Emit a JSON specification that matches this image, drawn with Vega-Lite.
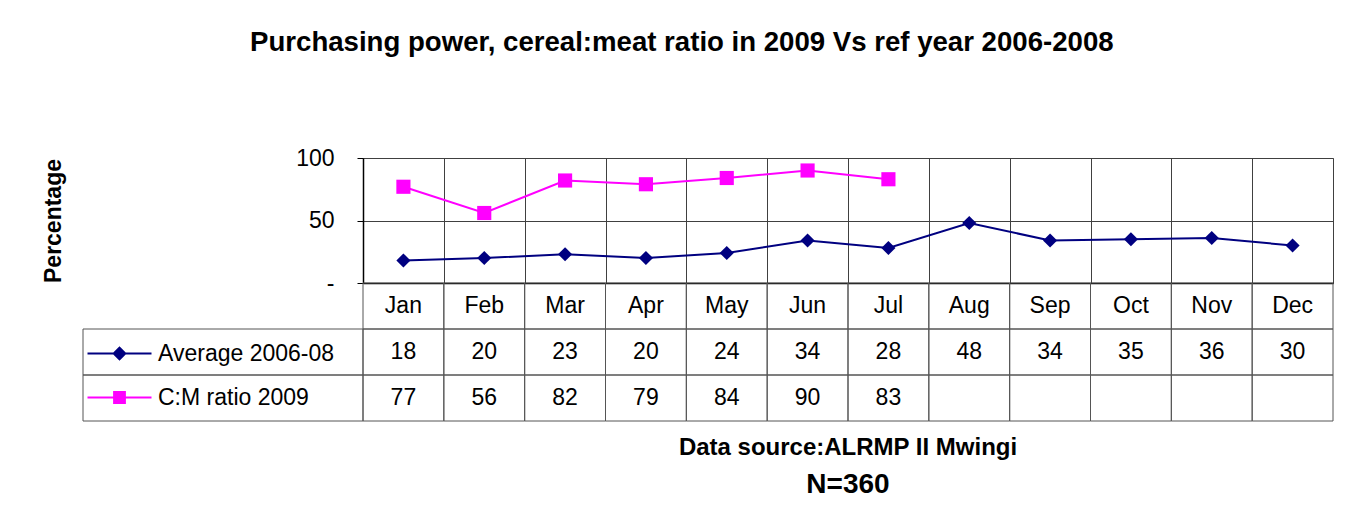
{
  "$schema": "https://vega.github.io/schema/vega-lite/v6.json",
  "background": "white",
  "padding": {"left": 42, "top": 28, "right": 10, "bottom": 10},
  "title": {
    "text": "Purchasing power, cereal:meat ratio in 2009 Vs ref year 2006-2008",
    "fontSize": 27.6, "fontWeight": "bold", "color": "black",
    "anchor": "middle", "offset": 90, "dx": -6
  },
  "datasets": {
    "monthly": [
      {"Month": "Jan", "Average 2006-08": 18, "C:M ratio 2009": 77},
      {"Month": "Feb", "Average 2006-08": 20, "C:M ratio 2009": 56},
      {"Month": "Mar", "Average 2006-08": 23, "C:M ratio 2009": 82},
      {"Month": "Apr", "Average 2006-08": 20, "C:M ratio 2009": 79},
      {"Month": "May", "Average 2006-08": 24, "C:M ratio 2009": 84},
      {"Month": "Jun", "Average 2006-08": 34, "C:M ratio 2009": 90},
      {"Month": "Jul", "Average 2006-08": 28, "C:M ratio 2009": 83},
      {"Month": "Aug", "Average 2006-08": 48, "C:M ratio 2009": null},
      {"Month": "Sep", "Average 2006-08": 34, "C:M ratio 2009": null},
      {"Month": "Oct", "Average 2006-08": 35, "C:M ratio 2009": null},
      {"Month": "Nov", "Average 2006-08": 36, "C:M ratio 2009": null},
      {"Month": "Dec", "Average 2006-08": 30, "C:M ratio 2009": null}
    ]
  },
  "columns": 2,
  "spacing": 0,
  "bounds": "flush",
  "resolve": {"scale": {"color": "independent", "shape": "independent"}, "legend": {"color": "independent", "shape": "independent"}},
  "concat": [
    {
      "width": 280, "height": 125,
      "view": {"stroke": null},
      "data": {"values": [{"blank": ""}]},
      "mark": {"type": "text"},
      "encoding": {"text": {"field": "blank", "type": "nominal"}}
    },
    {
      "width": 970, "height": 125,
      "view": {"stroke": "#8c8c8c", "strokeWidth": 1},
      "data": {"name": "monthly"},
      "transform": [{"fold": ["Average 2006-08", "C:M ratio 2009"], "as": ["series", "value"]}],
      "encoding": {
        "x": {
          "field": "Month", "type": "ordinal",
          "sort": ["Jan","Feb","Mar","Apr","May","Jun","Jul","Aug","Sep","Oct","Nov","Dec"],
          "bandPosition": 0.5,
          "scale": {"type": "band", "paddingInner": 0, "paddingOuter": 0},
          "axis": {"title": null, "labels": false, "ticks": false, "domain": true, "domainColor": "black", "domainWidth": 1.5, "grid": true, "gridColor": "#404040", "gridWidth": 1, "tickBand": "extent"}
        },
        "y": {
          "field": "value", "type": "quantitative",
          "scale": {"domain": [0, 100], "nice": false},
          "axis": {
            "title": "Percentage", "titleFontSize": 23, "titleFontWeight": "bold", "titleColor": "black", "titlePadding": 230,
            "values": [0, 50, 100],
            "labelExpr": "datum.value === 0 ? '-    ' : datum.label",
            "labelFontSize": 23, "labelColor": "black", "labelPadding": 23,
            "tickSize": 6, "tickColor": "black", "domainColor": "black", "domainWidth": 1.5,
            "grid": true, "gridColor": "#404040"
          }
        },
        "color": {
          "field": "series", "type": "nominal",
          "scale": {"domain": ["Average 2006-08", "C:M ratio 2009"], "range": ["#000080", "#FF00FF"]},
          "legend": null
        }
      },
      "layer": [
        {"mark": {"type": "line", "strokeWidth": 2}},
        {
          "mark": {"type": "point", "filled": true, "opacity": 1, "size": 200},
          "encoding": {
            "shape": {"field": "series", "type": "nominal", "scale": {"domain": ["Average 2006-08", "C:M ratio 2009"], "range": ["diamond", "square"]}, "legend": null}
          }
        }
      ]
    },
    {
      "width": 280, "height": 138,
      "view": {"stroke": null},
      "data": {"name": "monthly"},
      "transform": [
        {"fold": ["Month", "Average 2006-08", "C:M ratio 2009"], "as": ["row", "val"]},
        {"filter": "datum.row !== 'Month'"},
        {"aggregate": [{"op": "count", "as": "n"}], "groupby": ["row"]}
      ],
      "encoding": {
        "y": {"field": "row", "type": "ordinal", "scale": {"domain": ["Month", "Average 2006-08", "C:M ratio 2009"], "paddingInner": 0, "paddingOuter": 0}, "axis": null}
      },
      "layer": [
        {"mark": {"type": "rect", "filled": false, "stroke": "#555555", "strokeWidth": 1}},
        {
          "mark": {"type": "point", "filled": true, "opacity": 0, "size": 256},
          "encoding": {
            "color": {
              "field": "row", "type": "nominal",
              "scale": {"domain": ["Average 2006-08", "C:M ratio 2009"], "range": ["#000080", "#FF00FF"]},
              "legend": {
                "orient": "none", "legendX": 25, "legendY": 59, "title": null,
                "direction": "vertical", "padding": 0,
                "labelFontSize": 23, "labelColor": "black", "labelOffset": 27, "labelLimit": 300,
                "symbolSize": 256, "rowPadding": 20, "symbolOpacity": 1, "symbolStrokeWidth": 0
              }
            },
            "shape": {
              "field": "row", "type": "nominal",
              "scale": {"domain": ["Average 2006-08", "C:M ratio 2009"], "range": ["M-4,-0.125H4V0.125H-4ZM-0.9,0L0,-0.9L0.9,0L0,0.9Z", "M-4,-0.125H4V0.125H-4ZM-0.8,-0.8H0.8V0.8H-0.8Z"]},
              "legend": null
            }
          }
        }
      ]
    },
    {
      "width": 970, "height": 138,
      "view": {"stroke": null},
      "data": {"name": "monthly"},
      "title": {
        "text": "Data source:ALRMP II Mwingi", "subtitle": "N=360",
        "orient": "bottom", "anchor": "middle",
        "fontSize": 24, "fontWeight": "bold", "color": "black",
        "subtitleFontSize": 28, "subtitleFontWeight": "bold", "subtitleColor": "black",
        "offset": 14, "subtitlePadding": 11
      },
      "transform": [{"fold": ["Month", "Average 2006-08", "C:M ratio 2009"], "as": ["row", "val"]}],
      "encoding": {
        "x": {"field": "Month", "type": "ordinal", "sort": ["Jan","Feb","Mar","Apr","May","Jun","Jul","Aug","Sep","Oct","Nov","Dec"], "scale": {"paddingInner": 0, "paddingOuter": 0}, "axis": null},
        "y": {"field": "row", "type": "ordinal", "scale": {"domain": ["Month", "Average 2006-08", "C:M ratio 2009"], "paddingInner": 0, "paddingOuter": 0}, "axis": null}
      },
      "layer": [
        {"mark": {"type": "rect", "filled": false, "stroke": "#555555", "strokeWidth": 1}},
        {
          "transform": [{"filter": "datum.val != null"}],
          "mark": {"type": "text", "fontSize": 23, "color": "black"},
          "encoding": {"text": {"field": "val", "type": "nominal"}}
        }
      ]
    }
  ],
  "config": {
    "font": "Liberation Sans",
    "text": {"color": "black"}
  }
}
